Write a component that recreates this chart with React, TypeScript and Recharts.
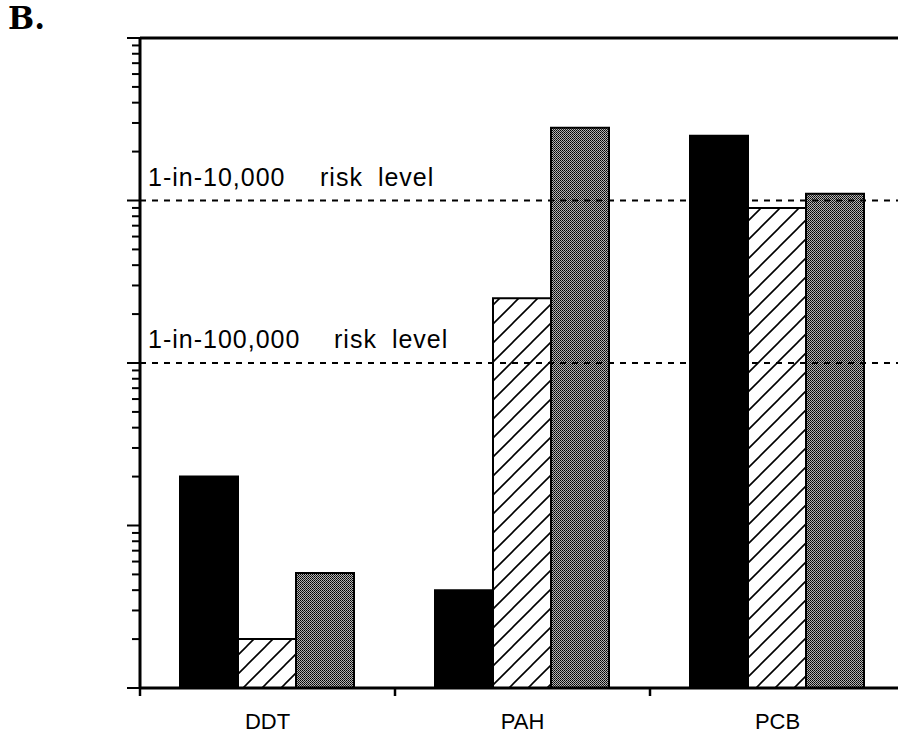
import React from 'react'
import { BarChart, Bar, XAxis, YAxis, ReferenceLine } from 'recharts'

// cancer risk estimates per contaminant class
const categories = ['DDT', 'PAH', 'PCB']
const solidValues = [2.0e-6, 4.0e-7, 2.5e-4]
const hatchedValues = [2.0e-7, 2.5e-5, 9.0e-5]
const stippledValues = [5.1e-7, 2.8e-4, 1.1e-4]

const decades = [1e-7, 1e-6, 1e-5, 1e-4, 1e-3]
const minorSteps = [2, 3, 4, 5, 6, 7, 8, 9]

const riskLevels = [
  { value: 1e-4, label: '1-in-10,000', riskX: 320 },
  { value: 1e-5, label: '1-in-100,000', riskX: 334 },
]

const data = categories.map((category, i) => ({
  category,
  solid: solidValues[i],
  hatched: hatchedValues[i],
  stippled: stippledValues[i],
}))

const yTicks = [
  ...decades,
  ...decades.slice(0, -1).flatMap((d) => minorSteps.map((m) => d * m)),
].sort((a, b) => a - b)

const CHART_W = 920
const CHART_H = 733
const MARGIN = { top: 38, right: 15, bottom: 0, left: 0 }
const Y_AXIS_W = 140
const BAND = (CHART_W - MARGIN.left - MARGIN.right - Y_AXIS_W) / categories.length
const FONT = '"Liberation Sans", Arial, Helvetica, sans-serif'

const isDecade = (v: number) => Math.abs(Math.log10(v) - Math.round(Math.log10(v))) < 1e-9

const LogTick = ({ x, y, payload }: any) => {
  const len = isDecade(payload.value) ? 13 : 8
  return <line x1={x - len} x2={x} y1={y} y2={y} stroke="#000" strokeWidth={2} />
}

const CategoryTick = ({ x, y, payload }: any) => (
  <g>
    <line x1={x - BAND / 2} x2={x - BAND / 2} y1={y} y2={y + 8} stroke="#000" strokeWidth={2.5} />
    <text x={x} y={y + 41} textAnchor="middle" fontSize={22} fontFamily={FONT} fill="#000">
      {payload.value}
    </text>
  </g>
)

const riskLabel = (label: string, riskX: number) => (props: any) => {
  const { x, y } = props.viewBox
  return (
    <text y={y - 15} fontSize={25} fontFamily={FONT} fill="#000" letterSpacing={1}>
      <tspan x={x + 8}>{label}</tspan>
      <tspan x={riskX}>risk</tspan>
      <tspan dx={15}>level</tspan>
    </text>
  )
}

export default function App() {
  return (
    <div
      style={{
        position: 'absolute',
        left: 0,
        top: 0,
        width: 898,
        height: 733,
        overflow: 'hidden',
        background: '#fff',
      }}
    >
      <div
        style={{
          position: 'absolute',
          left: 8,
          top: 0,
          fontFamily: '"DejaVu Serif", serif',
          fontWeight: 'bold',
          fontSize: 31,
          color: '#000',
        }}
      >
        B.
      </div>
      <BarChart
        width={CHART_W}
        height={CHART_H}
        data={data}
        margin={MARGIN}
        barCategoryGap={40}
        barGap={0}
      >
        <defs>
          <pattern id="hatch" patternUnits="userSpaceOnUse" width={19} height={19}>
            <rect width={19} height={19} fill="#fff" />
            <path d="M-1,1 l2,-2 M0,19 l19,-19 M18,20 l2,-2" stroke="#000" strokeWidth={1.6} />
          </pattern>
          <pattern id="stipple" patternUnits="userSpaceOnUse" width={2} height={2}>
            <rect width={2} height={2} fill="#b4b4b4" />
            <rect width={1} height={1} fill="#000" />
            <rect x={1} y={1} width={1} height={1} fill="#222" />
          </pattern>
        </defs>
        <XAxis
          dataKey="category"
          height={45}
          interval={0}
          tickLine={false}
          tickSize={0}
          tickMargin={0}
          tick={<CategoryTick />}
          axisLine={{ stroke: '#000', strokeWidth: 3 }}
        />
        <YAxis
          type="number"
          scale="log"
          domain={[1e-7, 1e-3]}
          allowDataOverflow
          ticks={yTicks}
          interval={0}
          width={Y_AXIS_W}
          tickLine={false}
          tickSize={0}
          tickMargin={0}
          tick={<LogTick />}
          axisLine={{ stroke: '#000', strokeWidth: 3 }}
        />
        <ReferenceLine y={1e-3} stroke="#000" strokeWidth={3} />
        {riskLevels.map((r) => (
          <ReferenceLine
            key={r.label}
            y={r.value}
            stroke="#000"
            strokeWidth={2}
            strokeDasharray="6 6"
            label={riskLabel(r.label, r.riskX)}
          />
        ))}
        <Bar dataKey="solid" fill="#000" stroke="#000" strokeWidth={2} isAnimationActive={false} />
        <Bar dataKey="hatched" fill="url(#hatch)" stroke="#000" strokeWidth={2} isAnimationActive={false} />
        <Bar dataKey="stippled" fill="url(#stipple)" stroke="#000" strokeWidth={2} isAnimationActive={false} />
      </BarChart>
    </div>
  )
}
